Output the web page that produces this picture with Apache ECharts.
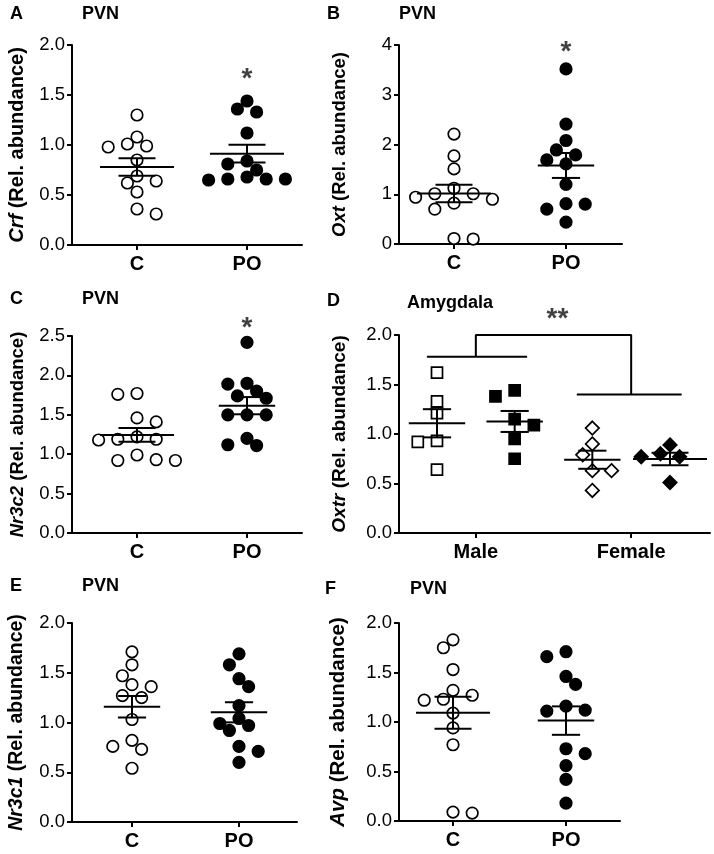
<!DOCTYPE html>
<html>
<head>
<meta charset="utf-8">
<title>PVN / Amygdala dot plots</title>
<script src="https://cdn.jsdelivr.net/npm/echarts@6/dist/echarts.min.js"></script>
<style>
  html, body { margin: 0; background: #fff; }
  #main { width: 714px; height: 854px; }
</style>
</head>
<body>
<div id="main"></div>
<script>
// values (relative abundance, one entry per animal)
var groupsCPO = ['C', 'PO'];
var sexGroups = ['Male', 'Female'];

var crfC = [1.30, 1.08, 1.01, 0.99, 0.98, 0.85, 0.69, 0.64, 0.62, 0.53, 0.36, 0.31];
var crfPO = [1.44, 1.36, 1.33, 1.12, 0.84, 0.81, 0.75, 0.68, 0.66, 0.65, 0.66, 0.66];
var oxtC = [2.21, 1.77, 1.51, 1.12, 1.01, 1.01, 0.94, 0.90, 0.82, 0.70, 0.11, 0.10];
var oxtPO = [3.52, 2.41, 2.08, 1.89, 1.79, 1.69, 1.61, 1.20, 0.81, 0.80, 0.70, 0.44];
var nr3c2C = [1.77, 1.76, 1.46, 1.41, 1.22, 1.19, 1.19, 1.18, 0.99, 0.93, 0.92, 0.92];
var nr3c2PO = [2.42, 1.90, 1.89, 1.80, 1.74, 1.71, 1.50, 1.50, 1.50, 1.20, 1.12, 1.11];
var oxtrMaleC = [1.62, 1.33, 1.21, 0.93, 0.92, 0.64];
var oxtrMalePO = [1.44, 1.38, 1.15, 1.09, 0.95, 0.75];
var oxtrFemaleC = [1.06, 0.90, 0.79, 0.63, 0.63, 0.43];
var oxtrFemalePO = [0.89, 0.80, 0.77, 0.77, 0.51];
var nr3c1C = [1.71, 1.58, 1.47, 1.38, 1.36, 1.27, 1.25, 1.03, 0.82, 0.76, 0.73, 0.54];
var nr3c1PO = [1.69, 1.58, 1.44, 1.36, 1.17, 1.04, 0.99, 0.97, 0.92, 0.76, 0.71, 0.60];
var avpC = [1.83, 1.75, 1.53, 1.32, 1.27, 1.23, 1.22, 1.09, 0.94, 0.77, 0.09, 0.08];
var avpPO = [1.71, 1.66, 1.46, 1.38, 1.16, 1.12, 1.11, 0.73, 0.68, 0.56, 0.42, 0.18];

// significance marks: [group position, height]
var starCrf = [2, 1.66];
var starOxt = [2, 3.86];
var starNr3c2 = [2, 2.60];
var starOxtr = [2.55, 2.16];
// Oxtr sex bracket: top height, bar heights, bar extents
var bracketTop = 2.0;
var bracketBarY = [1.78, 1.40];
var bracketMaleBar = [0.87, 2.16];
var bracketFemaleBar = [2.80, 4.15];

var FONT = "'Liberation Sans', Arial, Helvetica, sans-serif";
var STEP = 9.6;   // swarm column spacing, px
var DIAM = 11.5;  // minimum centre distance, px

var panels = [
  { letter: 'A', region: 'PVN', gene: 'Crf', left: 72, top: 45, width: 230, height: 200,
    cx: [137, 247], yMax: 2, yStep: 0.5, dec: 1, nameSize: 20, nameGap: 45,
    letterX: 10, regionX: 82, titleY: 5,
    groups: [crfC, crfPO], sym: ['circle', 'circle'], fill: ['#fff', '#000'],
    star: starCrf, starText: '*' },
  { letter: 'B', region: 'PVN', gene: 'Oxt', left: 399, top: 45, width: 223, height: 199,
    cx: [454, 566], yMax: 4, yStep: 1, dec: 0, nameSize: 18.5, nameGap: 50,
    letterX: 327, regionX: 399, titleY: 5,
    groups: [oxtC, oxtPO], sym: ['circle', 'circle'], fill: ['#fff', '#000'],
    star: starOxt, starText: '*' },
  { letter: 'C', region: 'PVN', gene: 'Nr3c2', left: 72, top: 336, width: 230, height: 197,
    cx: [137, 247], yMax: 2.5, yStep: 0.5, dec: 1, nameSize: 18.5, nameGap: 45,
    letterX: 10, regionX: 82, titleY: 290,
    groups: [nr3c2C, nr3c2PO], sym: ['circle', 'circle'], fill: ['#fff', '#000'],
    star: starNr3c2, starText: '*' },
  { letter: 'D', region: 'Amygdala', gene: 'Oxtr', left: 399, top: 335, width: 311, height: 198,
    cx: [437, 514.7, 592.4, 670], yMax: 2, yStep: 0.5, dec: 1, nameSize: 19, nameGap: 50,
    letterX: 327, regionX: 407, titleY: 292, sex: true,
    groups: [oxtrMaleC, oxtrMalePO, oxtrFemaleC, oxtrFemalePO],
    sym: ['rect', 'rect', 'diamond', 'diamond'], fill: ['#fff', '#000', '#fff', '#000'],
    star: starOxtr, starText: '**' },
  { letter: 'E', region: 'PVN', gene: 'Nr3c1', left: 72, top: 623, width: 225, height: 199,
    cx: [132, 239], yMax: 2, yStep: 0.5, dec: 1, nameSize: 19.5, nameGap: 45,
    letterX: 10, regionX: 82, titleY: 577,
    groups: [nr3c1C, nr3c1PO], sym: ['circle', 'circle'], fill: ['#fff', '#000'] },
  { letter: 'F', region: 'PVN', gene: 'Avp', left: 399, top: 623, width: 221, height: 198,
    cx: [453, 566], yMax: 2, yStep: 0.5, dec: 1, nameSize: 20.5, nameGap: 50,
    letterX: 325, regionX: 410, titleY: 580,
    groups: [avpC, avpPO], sym: ['circle', 'circle'], fill: ['#fff', '#000'] }
];

function meanSem(v) {
  var n = v.length, m = v.reduce(function (s, x) { return s + x; }, 0) / n;
  var ss = v.reduce(function (s, x) { return s + (x - m) * (x - m); }, 0);
  return [m, Math.sqrt(ss / (n - 1)) / Math.sqrt(n)];
}

// simple column beeswarm: top to bottom, nearest free column
function swarm(vals, gx, pxX, pxY) {
  var order = vals.map(function (v, i) { return i; })
    .sort(function (a, b) { return vals[b] - vals[a]; });
  var placed = [], out = [];
  order.forEach(function (i) {
    var y = vals[i] * pxY;
    var sum = placed.reduce(function (s, p) { return s + p.x; }, 0);
    for (var m = 0; m < 30; m++) {
      var cands = m === 0 ? [0] : (sum > 0 ? [-m, m] : [m, -m]);
      if (m > 0 && sum === 0) cands = [-m, m];
      for (var c = 0; c < cands.length; c++) {
        var x = cands[c] * STEP;
        var ok = placed.every(function (p) {
          return (p.x - x) * (p.x - x) + (p.y - y) * (p.y - y) >= DIAM * DIAM;
        });
        if (ok) {
          placed.push({ x: x, y: y });
          out.push([gx + x / pxX, vals[i]]);
          return;
        }
      }
    }
  });
  var spread = Math.max.apply(null, placed.map(function (p) { return Math.abs(p.x); }));
  return { data: out, spread: spread };
}

var grids = [], xAxes = [], yAxes = [], series = [], graphics = [];

panels.forEach(function (p, k) {
  var n = p.cx.length;
  var unit = (p.cx[n - 1] - p.cx[0]) / (n - 1);
  var xMin = 1 - (p.cx[0] - p.left) / unit;
  var xMax = n + (p.left + p.width - p.cx[n - 1]) / unit;
  var pxY = p.height / p.yMax;
  var ticks = p.sex ? [1.5, 3.5] : [1, 2];

  grids.push({ left: p.left, top: p.top, width: p.width, height: p.height });

  xAxes.push({
    gridIndex: k, type: 'value', min: xMin, max: xMax,
    axisLine: { lineStyle: { color: '#000', width: 2 } },
    axisTick: { show: true, customValues: ticks, length: 5, lineStyle: { color: '#000', width: 2 } },
    axisLabel: {
      customValues: ticks, margin: 9, color: '#000', fontFamily: FONT,
      fontSize: 20, fontWeight: 'bold',
      formatter: function (v) {
        return p.sex ? (v < 2.5 ? sexGroups[0] : sexGroups[1]) : groupsCPO[Math.round(v) - 1];
      }
    },
    splitLine: { show: false }
  });

  yAxes.push({
    gridIndex: k, type: 'value', min: 0, max: p.yMax, interval: p.yStep,
    name: '{i|' + p.gene + '} (Rel. abundance)',
    nameLocation: 'middle', nameGap: p.nameGap,
    nameTextStyle: {
      fontFamily: FONT, fontSize: p.nameSize, fontWeight: 'bold', color: '#000',
      rich: { i: { fontFamily: FONT, fontSize: p.nameSize, fontWeight: 'bold', fontStyle: 'italic', color: '#000' } }
    },
    axisLine: { show: true, lineStyle: { color: '#000', width: 2 } },
    axisTick: { show: true, length: 5, lineStyle: { color: '#000', width: 2 } },
    axisLabel: {
      margin: 7, color: '#000', fontFamily: FONT, fontSize: 18.5,
      formatter: function (v) { return v.toFixed(p.dec); }
    },
    splitLine: { show: false }
  });

  var bars = [];
  p.groups.forEach(function (vals, g) {
    var gx = g + 1;
    var sw = swarm(vals, gx, unit, pxY);
    var size = p.sym[g] === 'diamond' ? 13.5 : (p.sym[g] === 'rect' ? 11 : 11.5);
    series.push({
      type: 'scatter', xAxisIndex: k, yAxisIndex: k, clip: false,
      symbol: p.sym[g], symbolSize: size,
      itemStyle: { color: p.fill[g], borderColor: '#000', borderWidth: 1.7, opacity: 1 },
      emphasis: { disabled: true },
      data: sw.data, z: 2
    });
    var ms = meanSem(vals);
    var half = Math.min(Math.max(sw.spread + 9, 24), 37);
    bars.push([gx, ms[0], ms[1], half, Math.max(half * 0.5, 13)]);
  });

  series.push({
    type: 'custom', xAxisIndex: k, yAxisIndex: k, z: 5, clip: false,
    data: bars,
    renderItem: function (params, api) {
      var c = api.coord([api.value(0), api.value(1)]);
      var t = api.coord([api.value(0), api.value(1) + api.value(2)]);
      var b = api.coord([api.value(0), api.value(1) - api.value(2)]);
      var h = api.value(3), cap = api.value(4);
      var st = { stroke: '#000', lineWidth: 2 };
      return {
        type: 'group', children: [
          { type: 'line', shape: { x1: c[0] - h, y1: c[1], x2: c[0] + h, y2: c[1] }, style: st },
          { type: 'line', shape: { x1: t[0], y1: t[1], x2: b[0], y2: b[1] }, style: st },
          { type: 'line', shape: { x1: t[0] - cap, y1: t[1], x2: t[0] + cap, y2: t[1] }, style: st },
          { type: 'line', shape: { x1: b[0] - cap, y1: b[1], x2: b[0] + cap, y2: b[1] }, style: st }
        ]
      };
    }
  });

  if (p.star) {
    series.push({
      type: 'scatter', xAxisIndex: k, yAxisIndex: k, clip: false, symbolSize: 1,
      itemStyle: { color: 'rgba(0,0,0,0)' }, silent: true,
      label: {
        show: true, position: 'inside', formatter: p.starText,
        fontFamily: FONT, fontSize: 28, fontWeight: 'bold', color: '#111'
      },
      data: [p.star]
    });
  }

  if (p.sex) {
    var ls = { color: '#000', width: 2 };
    [
      [[bracketMaleBar[0], bracketBarY[0]], [bracketMaleBar[1], bracketBarY[0]]],
      [[1.5, bracketBarY[0]], [1.5, bracketTop], [3.5, bracketTop], [3.5, bracketBarY[1]]],
      [[bracketFemaleBar[0], bracketBarY[1]], [bracketFemaleBar[1], bracketBarY[1]]]
    ].forEach(function (d) {
      series.push({
        type: 'line', xAxisIndex: k, yAxisIndex: k, clip: false, symbol: 'none',
        lineStyle: ls, silent: true, data: d, z: 3
      });
    });
  }

  graphics.push(
    { type: 'text', left: p.letterX, top: p.titleY,
      style: { text: p.letter, font: 'bold 18px ' + FONT, fill: '#000' } },
    { type: 'text', left: p.regionX, top: p.titleY + (p.sex ? 2 : 0),
      style: { text: p.region, font: 'bold 18px ' + FONT, fill: '#000' } }
  );
});

var chart = echarts.init(document.getElementById('main'), null, { renderer: 'canvas' });
chart.setOption({
  animation: false,
  backgroundColor: '#fff',
  grid: grids,
  xAxis: xAxes,
  yAxis: yAxes,
  series: series,
  graphic: graphics
});
</script>
</body>
</html>
